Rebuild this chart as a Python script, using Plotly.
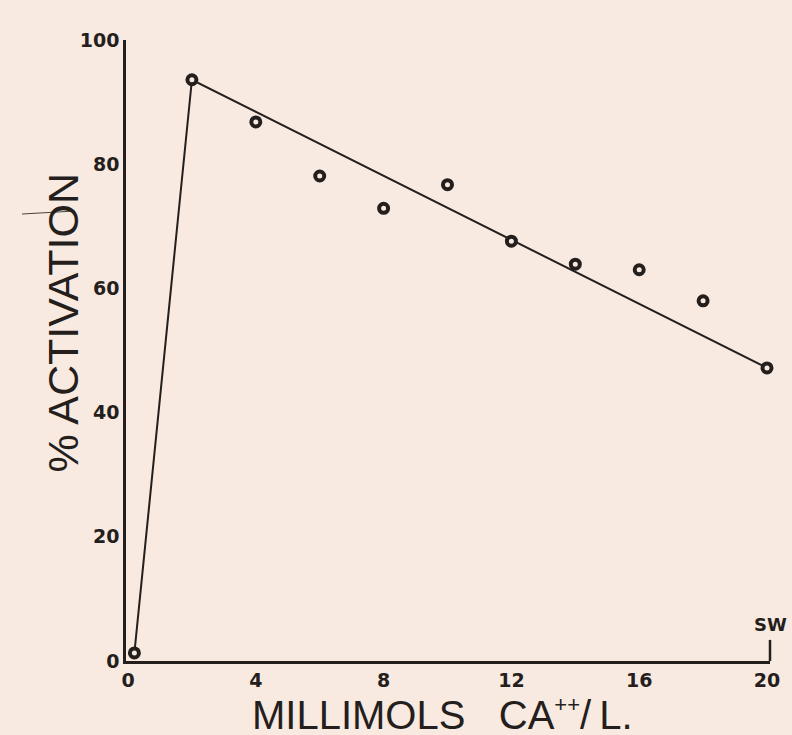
import plotly.graph_objects as go

# Data
ca_mmol = [0.2, 2, 4, 6, 8, 10, 12, 14, 16, 18, 20]
activation = [1.3, 93.6, 86.8, 78.1, 72.9, 76.7, 67.6, 63.9, 63.0, 58.0, 47.2]

# Fitted polyline drawn through selected points
line_x = [0.2, 2, 20]
line_y = [1.3, 93.6, 47.2]

x_ticks = [0, 4, 8, 12, 16, 20]
y_ticks = [0, 20, 40, 60, 80, 100]

BG = "#f8eae0"
INK = "#241e1d"
NB = "\u00a0"

fig = go.Figure()
fig.add_trace(go.Scatter(x=line_x, y=line_y, mode="lines",
                         line=dict(color=INK, width=2), hoverinfo="skip",
                         showlegend=False))
fig.add_trace(go.Scatter(x=ca_mmol, y=activation, mode="markers",
                         marker=dict(symbol="circle", size=9, color=BG,
                                     line=dict(color=INK, width=4)),
                         cliponaxis=False, showlegend=False))

tickfont = dict(family="DejaVu Sans", size=19, color=INK, weight="bold")

fig.update_layout(
    width=792, height=735,
    paper_bgcolor=BG, plot_bgcolor=BG,
    margin=dict(l=126, r=22, t=40, b=74),
    font=dict(family="DejaVu Sans", color=INK),
    xaxis=dict(range=[-0.063, 20.094], tickvals=x_ticks,
               ticktext=[str(v) for v in x_ticks],
               showgrid=False, zeroline=False, showline=True,
               linecolor=INK, linewidth=2.5, ticks="", tickfont=tickfont),
    yaxis=dict(range=[0, 100], tickvals=y_ticks,
               ticktext=[str(v) for v in y_ticks],
               showgrid=False, zeroline=False, showline=True,
               linecolor=INK, linewidth=2.5, ticks="", tickfont=tickfont),
    annotations=[
        dict(text="% ACTIVATION", xref="paper", yref="paper",
             x=-0.0978, y=0.5435, textangle=-90, showarrow=False,
             font=dict(family="Liberation Sans", size=43, color=INK),
             xanchor="center", yanchor="middle"),
        dict(text="MILLIMOLS" + NB * 3 + "CA<sup><span style='font-size:22px'>++</span></sup>/" + "\u2009" + "L.",
             xref="paper", yref="paper",
             x=0.492, y=-0.0855, showarrow=False,
             font=dict(family="Liberation Sans", size=40, color=INK),
             xanchor="center", yanchor="middle"),
        dict(text="<b>SW</b>", xref="paper", yref="paper",
             x=1.0, y=0.058, showarrow=False,
             font=dict(family="DejaVu Sans", size=18, color=INK),
             xanchor="center", yanchor="middle"),
    ],
    shapes=[
        dict(type="line", xref="paper", yref="paper",
             x0=1.0, x1=1.0, y0=0.0, y1=0.034,
             line=dict(color=INK, width=2.5)),
        dict(type="line", xref="paper", yref="paper",
             x0=-0.1615, x1=-0.0792, y0=0.7198, y1=0.7246,
             line=dict(color="#4a4240", width=1.2)),
    ],
)

fig.write_html("out.html")
